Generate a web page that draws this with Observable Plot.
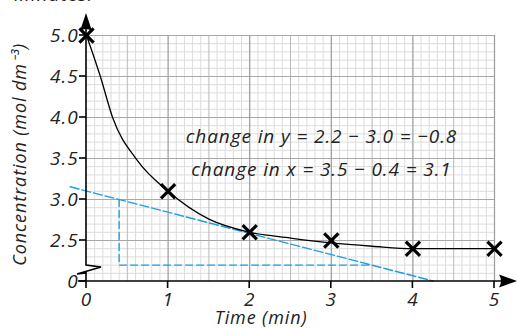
<!DOCTYPE html>
<html>
<head>
<meta charset="utf-8">
<script src="https://cdn.jsdelivr.net/npm/d3@7"></script>
<script src="https://cdn.jsdelivr.net/npm/@observablehq/plot@0.6"></script>
<style>
  html, body { margin: 0; padding: 0; background: #fff; }
  #wrap { position: relative; width: 518px; height: 328px; overflow: hidden; }
  #top { position: absolute; left: 14px; top: -15px; font: italic 19px/19px "Open Sans", sans-serif; letter-spacing: 1px; color: #222; }
  #chart svg text { letter-spacing: 0.9px; }
</style>
</head>
<body>
<div id="wrap"><div id="top">Minutes:</div><div id="chart"></div></div>
<script>
// Measured points (time in min, concentration in mol dm^-3)
const times = [0, 1, 2, 3, 4, 5];
const concentrations = [5.0, 3.1, 2.6, 2.5, 2.4, 2.4];
// Smooth hand-drawn curve
const curveX = [0, 0.17, 0.32, 0.62, 1, 1.5, 2, 2.5, 3, 3.5, 4, 4.5, 5];
const curveY = [5.0, 4.5, 4.0, 3.48, 3.1, 2.76, 2.6, 2.53, 2.47, 2.43, 2.4, 2.4, 2.4];
// Tangent line and its triangle
const tangentX = [-0.2, 4.25];
const tangentY = [3.155, 2.005];
const triX = [0.4, 0.4, 3.5];
const triY = [3.0, 2.2, 2.2];
// Tick labels
const xTicks = [0, 1, 2, 3, 4, 5];
const xTickLabels = ["0", "1", "2", "3", "4", "5"];
const yTicks = [2.0, 2.5, 3.0, 3.5, 4.0, 4.5, 5.0];
const yTickLabels = ["0", "2.5", "3.0", "3.5", "4.0", "4.5", "5.0"];
const annotations = ["change in y = 2.2 \u2212 3.0 = \u22120.8", "change in x = 3.5 \u2212 0.4 = 3.1"];
const annotationY = [3.76, 3.355];

const points = times.map((t, i) => ({t, c: concentrations[i]}));
const curve = curveX.map((x, i) => ({x, y: curveY[i]}));
const tangent = tangentX.map((x, i) => ({x, y: tangentY[i]}));
const tri = triX.map((x, i) => ({x, y: triY[i]}));

const minorX = d3.range(0, 51).map(i => i / 10).filter(v => Math.abs(v * 2 - Math.round(v * 2)) > 1e-6);
const minorY = d3.range(20, 51).map(i => i / 10).filter(v => Math.abs(v * 2 - Math.round(v * 2)) > 1e-6);
const halfX = [0.5, 1.5, 2.5, 3.5, 4.5];
const intX = [1, 2, 3, 4, 5];
const majorY = [2.5, 3.0, 3.5, 4.0, 4.5, 5.0];

const FONT = '"Open Sans", sans-serif';
const BLUE = "#1e9fe3";
const INK = "#222";

// Axes with arrows and break, drawn from the scales
function axesMark(index, scales, values, dims) {
  const {x, y} = scales;
  const x0 = x(0), y0 = y(2), yTop = y(5), xEnd = x(5);
  const g = d3.create("svg:g").attr("fill", "none").attr("stroke", "#000").attr("stroke-width", 1.6);
  // x axis
  g.append("path").attr("d", `M${x0 - 8},${y0}H${xEnd + 8}`);
  g.append("path").attr("fill", "#000").attr("stroke", "none")
    .attr("d", `M${xEnd + 23},${y0}L${xEnd + 5},${y0 - 6.5}Q${xEnd + 9},${y0} ${xEnd + 5},${y0 + 6.5}Z`);
  // y axis with break
  g.append("path").attr("d", `M${x0},${y0}V${y0 - 8}L${x0 - 9},${y0 - 7}L${x0 + 15},${y0 - 14}L${x0},${y0 - 16}V${yTop - 8}`);
  g.append("path").attr("fill", "#000").attr("stroke", "none")
    .attr("d", `M${x0},${yTop - 22}L${x0 - 6},${yTop - 4}Q${x0},${yTop - 8} ${x0 + 6},${yTop - 4}Z`);
  // x ticks
  for (const t of xTicks) g.append("path").attr("d", `M${x(t)},${y0}v7`);
  // y ticks
  for (const t of yTicks) g.append("path").attr("d", `M${x0 - 7},${y(t)}H${x0}`);
  return g.node();
}

const plot = Plot.plot({
  width: 518,
  height: 328,
  marginLeft: 86,
  marginRight: 24,
  marginTop: 35,
  marginBottom: 47,
  x: {domain: [0, 5], axis: null},
  y: {domain: [2, 5], axis: null},
  style: {fontFamily: FONT, background: "#fff", overflow: "visible"},
  marks: [
    // graph paper
    Plot.ruleX(minorX, {y1: 2, y2: 5, stroke: "#dcdcdc", strokeWidth: 1}),
    Plot.ruleY(minorY, {x1: 0, x2: 5, stroke: "#dcdcdc", strokeWidth: 1}),
    Plot.ruleX(halfX, {y1: 2, y2: 5, stroke: "#b8b8b8", strokeWidth: 1}),
    Plot.ruleY(majorY, {x1: 0, x2: 5, stroke: "#a8a8a8", strokeWidth: 1}),
    Plot.ruleX(intX, {y1: 2, y2: 5, stroke: "#9a9a9a", strokeWidth: 1.2}),
    // tangent construction
    Plot.line(tangent, {x: "x", y: "y", stroke: BLUE, strokeWidth: 1.4, strokeDasharray: "9,3"}),
    Plot.line(tri, {x: "x", y: "y", stroke: BLUE, strokeWidth: 1.4, strokeDasharray: "7,4"}),
    // curve and points
    Plot.line(curve, {x: "x", y: "y", curve: "monotone-x", stroke: "#000", strokeWidth: 1.3}),
    Plot.dot(points, {x: "t", y: "c", symbol: "times", r: 6.5, stroke: "#000", strokeWidth: 3.2}),
    // axes
    axesMark,
    // tick labels
    Plot.text(xTicks, {x: d => d, y: () => 2, text: (d, i) => xTickLabels[i], dy: 18, fontSize: 19, fontStyle: "italic", fill: INK}),
    Plot.text(yTicks, {x: () => 0, y: d => d, text: (d, i) => yTickLabels[i], dx: -8, textAnchor: "end", fontSize: 19, fontStyle: "italic", fill: INK}),
    // annotations
    Plot.text(annotations, {x: () => 2.88, y: (d, i) => annotationY[i], text: d => d, fontSize: 19, fontStyle: "italic", fill: INK}),
    // axis titles
    Plot.text(["Time (min)"], {x: () => 2.14, y: () => 2, dy: 37, text: d => d, fontSize: 18, fontStyle: "italic", fill: INK}),
    Plot.text(["Concentration (mol dm\u207B\u00B3)"], {frameAnchor: "left", y: () => 3.55, dx: -66, rotate: -90, textAnchor: "middle", text: d => d, fontSize: 18, fontStyle: "italic", fill: INK})
  ]
});
document.getElementById("chart").appendChild(plot);
</script>
</body>
</html>
